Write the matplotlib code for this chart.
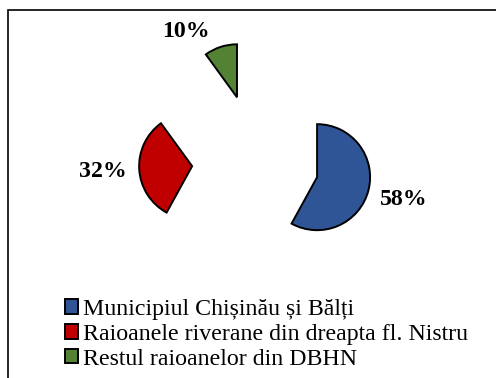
import matplotlib
matplotlib.use("Agg")
import matplotlib.pyplot as plt
from matplotlib.patches import Patch, Rectangle

labels = [
    "Municipiul Chișinău și Bălți",
    "Raioanele riverane din dreapta fl. Nistru",
    "Restul raioanelor din DBHN",
]
shares = [58, 32, 10]
colors = ["#2F5597", "#C00000", "#548235"]

plt.rcParams["font.family"] = ["Liberation Serif", "DejaVu Serif"]

W, H = 496, 378
fig = plt.figure(figsize=(W / 100, H / 100), dpi=100)
ax = fig.add_axes([0, 0, 1, 1])

# pixel-like data space, y pointing up
radius = 53
center = (258, H - 162)

wedges, texts, autotexts = ax.pie(
    shares,
    colors=colors,
    startangle=90,
    counterclock=False,
    radius=radius,
    center=center,
    explode=[61, 66, 68],
    autopct="%1.0f%%",
    pctdistance=1.68,
    wedgeprops=dict(edgecolor="black", linewidth=1.4),
    textprops=dict(fontsize=17.2, fontweight="bold"),
)

# smallest slice label sits a bit to the left in the original layout
x, y = autotexts[2].get_position()
autotexts[2].set_position((x - 24, y - 19))

ax.set_xlim(0, W)
ax.set_ylim(0, H)
ax.set_aspect("equal")
ax.axis("off")

handles = [
    Patch(facecolor=c, edgecolor="black", linewidth=1.4) for c in colors
]
fig.legend(
    handles,
    labels,
    loc="upper left",
    bbox_to_anchor=(65 / W, 1 - 299 / H),
    frameon=False,
    fontsize=17.2,
    handlelength=0.55,
    handleheight=0.55,
    handletextpad=0.22,
    labelspacing=0.16,
    borderpad=0,
    borderaxespad=0,
)

# outer border, only left and top edges fall inside the image
fig.add_artist(Rectangle(
    (8 / W, -0.1), 1.0, 1 - 10 / H + 0.1,
    transform=fig.transFigure, fill=False, edgecolor="black", linewidth=1.2,
))

plt.savefig("out.png", dpi=100)
plt.close()
